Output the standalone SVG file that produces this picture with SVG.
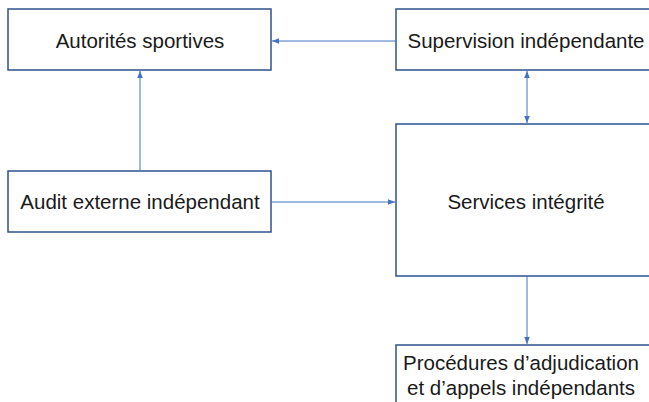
<svg xmlns="http://www.w3.org/2000/svg" width="649" height="402" viewBox="0 0 649 402">
<style>
.box{fill:#fff;stroke:#2F528F;stroke-width:1.5}
.t{font-family:"Liberation Sans",Arial,sans-serif;font-size:20.5px;fill:#1a1a1a;text-anchor:middle}
.c{stroke:#4472C4;stroke-width:1;fill:none}
</style>
<defs>
<marker id="a" viewBox="0 0 10 10" refX="10" refY="5" markerWidth="7" markerHeight="7" orient="auto-start-reverse" markerUnits="userSpaceOnUse">
<path d="M0,1 L10,5 L0,9 z" fill="#4472C4"/>
</marker>
</defs>
<rect width="649" height="402" fill="#fff"/>
<g id="autorites"><rect class="box" x="8" y="9" width="263" height="61"/><text class="t" x="140" y="48">Autorités sportives</text></g>
<g id="supervision"><rect class="box" x="396" y="9" width="262" height="61"/><text class="t" x="526" y="48">Supervision indépendante</text></g>
<g id="audit"><rect class="box" x="8" y="171" width="263" height="61"/><text class="t" x="140" y="209">Audit externe indépendant</text></g>
<g id="services"><rect class="box" x="396" y="124" width="262" height="152"/><text class="t" x="526" y="209">Services intégrité</text></g>
<g id="procedures"><rect class="box" x="396" y="345" width="262" height="70"/><text class="t" x="521" y="370">Procédures d’adjudication</text><text class="t" x="521" y="395">et d’appels indépendants</text></g>
<g id="connectors">
<line class="c" x1="396" y1="41" x2="272" y2="41" marker-end="url(#a)"/>
<line class="c" x1="140" y1="171" x2="140" y2="71" marker-end="url(#a)"/>
<line class="c" x1="271" y1="202" x2="395" y2="202" marker-end="url(#a)"/>
<line class="c" x1="527" y1="71" x2="527" y2="123" marker-start="url(#a)" marker-end="url(#a)"/>
<line class="c" x1="527" y1="276" x2="527" y2="344" marker-end="url(#a)"/>
</g>
</svg>
